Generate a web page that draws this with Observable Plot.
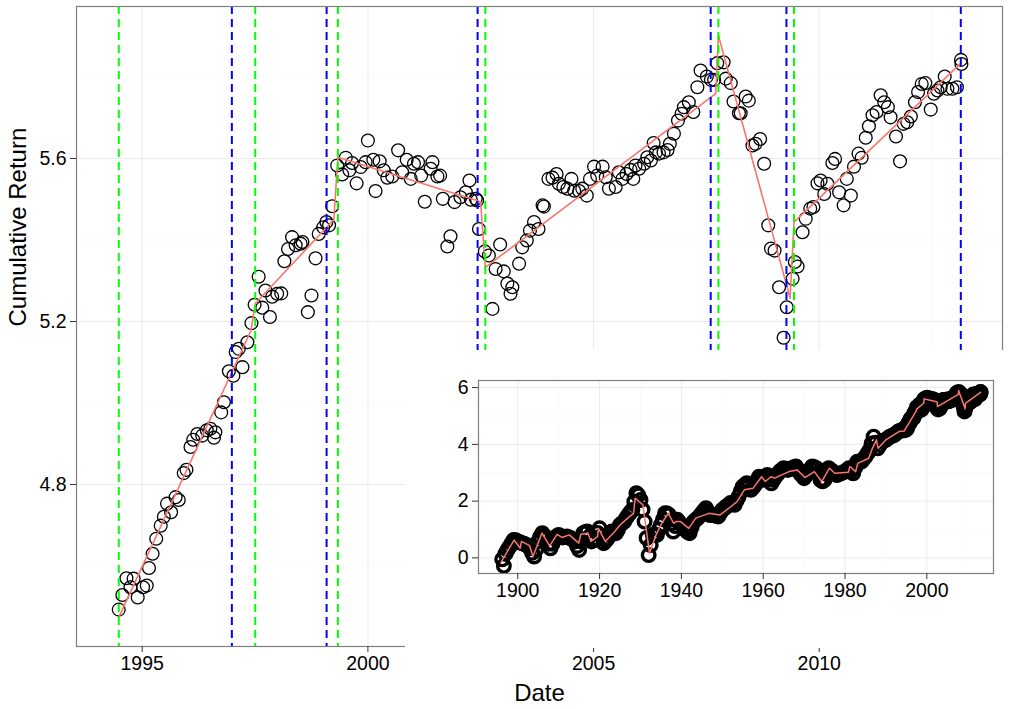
<!DOCTYPE html>
<html>
<head>
<meta charset="utf-8">
<script src="https://cdn.jsdelivr.net/npm/d3@7"></script>
<script src="https://cdn.jsdelivr.net/npm/@observablehq/plot@0.6"></script>
<style>
  html, body { margin: 0; padding: 0; background: #fff; }
  #chart { position: relative; width: 1009px; height: 709px; overflow: hidden; }
  #chart svg { display: block; }
  #inset { position: absolute; left: 405px; top: 350px; width: 604px; height: 298px; background: #fff; }
</style>
</head>
<body>
<div id="chart"><div id="inset"></div></div>
<script>
// Cumulative log return, 1994-2013 (decimal years)
const recentDates = [
  1994.48, 1994.56, 1994.65, 1994.74, 1994.81, 1994.90, 1995.02, 1995.10, 1995.15, 1995.23,
  1995.31, 1995.41, 1995.48, 1995.55, 1995.64, 1995.74, 1995.81, 1995.92, 1995.98, 1996.07,
  1996.13, 1996.22, 1996.33, 1996.43, 1996.51, 1996.59, 1996.62, 1996.75, 1996.81, 1996.92,
  1997.02, 1997.07, 1997.14, 1997.22, 1997.33, 1997.42, 1997.49, 1997.58, 1997.66, 1997.73,
  1997.83, 1997.88, 1997.99, 1998.08, 1998.15, 1998.23, 1998.32, 1998.40, 1998.51, 1998.55,
  1998.67, 1998.75, 1998.84, 1998.91, 1999.01, 1999.08, 1999.14, 1999.21, 1999.32, 1999.43,
  1999.51, 1999.59, 1999.65, 1999.75, 1999.84, 1999.95, 2000.00, 2000.12, 2000.17, 2000.26,
  2000.35, 2000.43, 2000.54, 2000.67, 2000.76, 2000.86, 2000.95, 2001.02, 2001.11, 2001.18,
  2001.26, 2001.39, 2001.43, 2001.54, 2001.60, 2001.66, 2001.76, 2001.83, 2001.92, 2002.05,
  2002.17, 2002.25, 2002.28, 2002.39, 2002.42, 2002.46, 2002.59, 2002.68, 2002.76, 2002.83,
  2002.93, 2003.01, 2003.09, 2003.16, 2003.20, 2003.35, 2003.42, 2003.52, 2003.59, 2003.68,
  2003.78, 2003.87, 2003.90, 2004.00, 2004.09, 2004.18, 2004.23, 2004.33, 2004.42, 2004.51,
  2004.57, 2004.68, 2004.75, 2004.85, 2004.92, 2005.01, 2005.08, 2005.20, 2005.27, 2005.34,
  2005.49, 2005.56, 2005.64, 2005.73, 2005.82, 2005.88, 2005.93, 2006.01, 2006.12, 2006.19,
  2006.27, 2006.33, 2006.38, 2006.45, 2006.55, 2006.64, 2006.69, 2006.78, 2006.87, 2006.95,
  2007.00, 2007.11, 2007.21, 2007.30, 2007.37, 2007.51, 2007.60, 2007.67, 2007.74, 2007.88,
  2007.93, 2008.04, 2008.10, 2008.22, 2008.26, 2008.37, 2008.44, 2008.52, 2008.59, 2008.69,
  2008.78, 2008.87, 2008.93, 2009.01, 2009.11, 2009.21, 2009.28, 2009.41, 2009.46, 2009.52,
  2009.63, 2009.70, 2009.80, 2009.87, 2009.96, 2010.03, 2010.11, 2010.18, 2010.29, 2010.35,
  2010.44, 2010.54, 2010.61, 2010.70, 2010.77, 2010.87, 2010.94, 2011.03, 2011.10, 2011.18,
  2011.27, 2011.36, 2011.44, 2011.52, 2011.58, 2011.70, 2011.79, 2011.87, 2011.95, 2012.03,
  2012.12, 2012.19, 2012.27, 2012.35, 2012.47, 2012.54, 2012.62, 2012.69, 2012.78, 2012.84,
  2012.95, 2013.05, 2013.14, 2013.15
];
const recentReturns = [
  4.493, 4.529, 4.570, 4.548, 4.569, 4.523, 4.548, 4.552, 4.595, 4.630,
  4.667, 4.699, 4.721, 4.753, 4.732, 4.769, 4.762, 4.828, 4.836, 4.892,
  4.910, 4.924, 4.920, 4.933, 4.937, 4.915, 4.928, 4.977, 5.002, 5.078,
  5.067, 5.125, 5.133, 5.088, 5.149, 5.196, 5.241, 5.310, 5.234, 5.276,
  5.211, 5.261, 5.268, 5.269, 5.348, 5.378, 5.407, 5.387, 5.391, 5.395,
  5.223, 5.264, 5.355, 5.415, 5.431, 5.444, 5.436, 5.483, 5.583, 5.561,
  5.602, 5.571, 5.589, 5.539, 5.579, 5.591, 5.644, 5.597, 5.520, 5.593,
  5.571, 5.553, 5.556, 5.620, 5.566, 5.597, 5.550, 5.587, 5.591, 5.558,
  5.494, 5.575, 5.591, 5.556, 5.558, 5.501, 5.384, 5.409, 5.493, 5.505,
  5.517, 5.546, 5.499, 5.501, 5.497, 5.427, 5.372, 5.362, 5.231, 5.329,
  5.389, 5.323, 5.293, 5.268, 5.284, 5.342, 5.382, 5.399, 5.423, 5.444,
  5.427, 5.485, 5.482, 5.550, 5.553, 5.562, 5.538, 5.530, 5.526, 5.550,
  5.521, 5.520, 5.526, 5.509, 5.550, 5.580, 5.558, 5.580, 5.554, 5.526,
  5.530, 5.566, 5.550, 5.562, 5.572, 5.550, 5.583, 5.575, 5.587, 5.603,
  5.595, 5.638, 5.615, 5.612, 5.615, 5.621, 5.636, 5.661, 5.693, 5.710,
  5.726, 5.738, 5.714, 5.775, 5.816, 5.801, 5.793, 5.793, 5.834, 5.836,
  5.796, 5.785, 5.740, 5.711, 5.711, 5.752, 5.742, 5.632, 5.636, 5.648,
  5.587, 5.436, 5.379, 5.374, 5.284, 5.160, 5.235, 5.305, 5.346, 5.335,
  5.419, 5.452, 5.477, 5.481, 5.539, 5.546, 5.513, 5.538, 5.589, 5.599,
  5.517, 5.485, 5.550, 5.509, 5.580, 5.612, 5.602, 5.651, 5.679, 5.706,
  5.714, 5.755, 5.738, 5.726, 5.701, 5.654, 5.593, 5.685, 5.689, 5.703,
  5.738, 5.763, 5.783, 5.785, 5.720, 5.759, 5.767, 5.775, 5.801, 5.771,
  5.771, 5.775, 5.842, 5.832
];

// Segmented linear fit over the same window
const fitDates   = [1994.481, 1997.411, 1997.504, 1999.246, 1999.335, 2002.365, 2002.498, 2002.602, 2007.706, 2007.766, 2009.280, 2009.353, 2009.441, 2013.140];
const fitReturns = [4.474,    5.178,    5.244,    5.450,    5.603,    5.499,    5.493,    5.333,    5.759,    5.902,    5.288,    5.257,    5.444,    5.834];

// Detected break dates
const greenBreaks = [1994.481, 1997.504, 1999.335, 2002.602, 2007.766, 2009.441];
const blueBreaks  = [1996.986, 1999.085, 2002.431, 2007.595, 2009.273, 2013.136];

// Long history, 1896-1994: start-of-year readings
const historyDates = [
  1896.2, 1896.6, 1897, 1898, 1899, 1900, 1901, 1902, 1903, 1904, 1905, 1906, 1907, 1908, 1909,
  1910, 1911, 1912, 1913, 1914, 1915, 1916, 1917, 1918, 1919, 1920, 1921, 1922, 1923, 1924,
  1925, 1926, 1927, 1928, 1929, 1930, 1931, 1932, 1933, 1934, 1935, 1936, 1937, 1938, 1939,
  1940, 1941, 1942, 1943, 1944, 1945, 1946, 1947, 1948, 1949, 1950, 1951, 1952, 1953, 1954,
  1955, 1956, 1957, 1958, 1959, 1960, 1961, 1962, 1963, 1964, 1965, 1966, 1967, 1968, 1969,
  1970, 1971, 1972, 1973, 1974, 1975, 1976, 1977, 1978, 1979, 1980, 1981, 1982, 1983, 1984,
  1985, 1986, 1987, 1988, 1989, 1990, 1991, 1992, 1993, 1994
];
const historyReturns = [
  -0.05, -0.28, 0.15, 0.40, 0.63, 0.58, 0.52, 0.46, 0.34, 0.05, 0.58, 0.87, 0.69, 0.34, 0.69,
  0.81, 0.72, 0.75, 0.69, 0.58, 0.28, 0.87, 0.93, 0.58, 0.69, 1.04, 0.52, 0.69, 0.93, 0.87,
  1.16, 1.28, 1.51, 1.69, 2.28, 2.04, 1.28, 0.10, 0.81, 0.81, 1.16, 1.57, 1.51, 0.93, 1.34,
  1.16, 0.99, 0.87, 1.28, 1.40, 1.57, 1.75, 1.51, 1.51, 1.46, 1.69, 1.81, 1.93, 1.87, 2.16,
  2.51, 2.63, 2.40, 2.57, 2.86, 2.75, 2.92, 2.63, 2.86, 3.04, 3.16, 3.10, 3.16, 3.22, 2.98,
  2.81, 3.04, 3.22, 3.16, 2.75, 2.75, 3.16, 3.04, 2.92, 2.98, 3.04, 3.16, 2.98, 3.39, 3.39,
  3.57, 3.80, 4.27, 3.86, 4.10, 4.16, 4.27, 4.33, 4.45, 4.51
];
// Mid-year readings, 1897.5-1993.5
const historyMidDates = [
  1897.5, 1898.5, 1899.5, 1900.5, 1901.5, 1902.5, 1903.5, 1904.5, 1905.5, 1906.5, 1907.5, 1908.5,
  1909.5, 1910.5, 1911.5, 1912.5, 1913.5, 1914.5, 1915.5, 1916.5, 1917.5, 1918.5, 1919.5, 1920.5,
  1921.5, 1922.5, 1923.5, 1924.5, 1925.5, 1926.5, 1927.5, 1928.5, 1929.5, 1930.5, 1931.5, 1932.5,
  1933.5, 1934.5, 1935.5, 1936.5, 1937.5, 1938.5, 1939.5, 1940.5, 1941.5, 1942.5, 1943.5, 1944.5,
  1945.5, 1946.5, 1947.5, 1948.5, 1949.5, 1950.5, 1951.5, 1952.5, 1953.5, 1954.5, 1955.5, 1956.5,
  1957.5, 1958.5, 1959.5, 1960.5, 1961.5, 1962.5, 1963.5, 1964.5, 1965.5, 1966.5, 1967.5, 1968.5,
  1969.5, 1970.5, 1971.5, 1972.5, 1973.5, 1974.5, 1975.5, 1976.5, 1977.5, 1978.5, 1979.5, 1980.5,
  1981.5, 1982.5, 1983.5, 1984.5, 1985.5, 1986.5, 1987.5, 1988.5, 1989.5, 1990.5, 1991.5, 1992.5,
  1993.5
];
const historyMidReturns = [
  0.28, 0.52, 0.62, 0.55, 0.50, 0.42, 0.18, 0.30, 0.75, 0.78, 0.50, 0.50,
  0.76, 0.76, 0.74, 0.72, 0.64, 0.42, 0.58, 0.90, 0.75, 0.62, 0.88, 0.78,
  0.60, 0.80, 0.90, 1.00, 1.22, 1.40, 1.60, 1.98, 2.20, 1.70, 0.70, 0.45,
  0.81, 1.00, 1.36, 1.56, 1.22, 1.12, 1.25, 1.08, 0.92, 1.08, 1.34, 1.48,
  1.66, 1.63, 1.51, 1.48, 1.58, 1.75, 1.87, 1.90, 2.02, 2.34, 2.57, 2.52,
  2.48, 2.72, 2.80, 2.84, 2.78, 2.75, 2.95, 3.10, 3.13, 3.13, 3.19, 3.10,
  2.90, 2.92, 3.13, 3.19, 2.96, 2.70, 2.96, 3.10, 2.98, 2.95, 3.01, 3.10,
  3.07, 3.18, 3.39, 3.48, 3.68, 4.03, 4.06, 3.98, 4.13, 4.22, 4.30, 4.39,
  4.48
];
const historyFitDates = [
  1896.0, 1899.1, 1900.6, 1900.9, 1902.9, 1903.7, 1905.9, 1907.8, 1909.6, 1910.8, 1912.6, 1914.9,
  1915.4, 1917.2, 1917.9, 1919.5, 1919.7, 1921.4, 1923.7, 1925.0, 1926.4, 1928.3, 1928.7, 1930.6,
  1932.2, 1933.8, 1935.2, 1936.8, 1938.1, 1938.7, 1939.8, 1941.8, 1943.5, 1946.7, 1949.4, 1951.6,
  1953.6, 1955.4, 1957.5, 1959.6, 1960.5, 1961.9, 1962.8, 1966.3, 1968.3, 1970.2, 1972.5, 1974.3,
  1976.2, 1977.5, 1980.8, 1981.2, 1982.6, 1983.1, 1985.8, 1986.7, 1987.7, 1988.1, 1990.0, 1993.2
];
const historyFitReturns = [
  -0.13, 0.63, 0.34, 0.58, 0.43, 0.05, 0.87, 0.42, 0.83, 0.72, 0.81, 0.52,
  0.83, 0.87, 0.58, 0.75, 1.04, 0.58, 0.93, 1.16, 1.34, 1.57, 2.10, 1.87,
  0.16, 0.81, 1.22, 1.57, 1.22, 1.28, 1.28, 1.04, 1.40, 1.57, 1.51, 1.75,
  1.98, 2.40, 2.45, 2.86, 2.69, 2.86, 2.81, 3.04, 3.10, 2.83, 3.04, 2.69,
  3.16, 2.98, 3.02, 3.22, 3.04, 3.33, 3.51, 3.86, 4.16, 3.86, 4.16, 4.45
];

// Axis ticks
const mainXTicks = [1995, 2000, 2005, 2010];
const mainXMinor = [1997.5, 2002.5, 2007.5, 2012.5];
const mainYTicks = [4.8, 5.2, 5.6];
const mainYMinor = [4.6, 5.0, 5.4, 5.8];
const insetXTicks = [1900, 1920, 1940, 1960, 1980, 2000];
const insetXMinor = [1890, 1910, 1930, 1950, 1970, 1990, 2010];
const insetYTicks = [0, 2, 4, 6];
const insetYMinor = [1, 3, 5];

const toRows = (xs, ys) => xs.map((x, i) => ({date: x, value: ys[i]}));
const recent = toRows(recentDates, recentReturns);
const fit = toRows(fitDates, fitReturns);
const fullSeries = toRows(
  historyDates.concat(historyMidDates, recentDates),
  historyReturns.concat(historyMidReturns, recentReturns)
);
const fullFit = toRows(historyFitDates.concat(fitDates), historyFitReturns.concat(fitReturns));

const FONT = "'Liberation Sans', Arial, Helvetica, sans-serif";
const RED = "#F8766D";
const yearFmt = d => String(d);

const main = Plot.plot({
  width: 1009,
  height: 709,
  marginLeft: 76,
  marginRight: 7,
  marginTop: 6,
  marginBottom: 63,
  style: {fontFamily: FONT, fontSize: "19.5px", color: "#000", background: "#fff", overflow: "visible"},
  x: {domain: [1993.544, 2014.06]},
  y: {domain: [4.4025, 5.973]},
  marks: [
    Plot.ruleX(mainXMinor, {stroke: "#fafafa", strokeWidth: 1}),
    Plot.ruleY(mainYMinor, {stroke: "#fafafa", strokeWidth: 1}),
    Plot.ruleX(mainXTicks, {stroke: "#ebebeb", strokeWidth: 1}),
    Plot.ruleY(mainYTicks, {stroke: "#ebebeb", strokeWidth: 1}),
    Plot.dot(recent, {x: "date", y: "value", r: 6.4, stroke: "#000", strokeWidth: 1.3, fill: "none"}),
    Plot.line(fit, {x: "date", y: "value", stroke: RED, strokeWidth: 1.6}),
    Plot.ruleX(greenBreaks, {stroke: "#00ff00", strokeWidth: 2, strokeDasharray: "8,5"}),
    Plot.ruleX(blueBreaks, {stroke: "#0000ff", strokeWidth: 2, strokeDasharray: "8,5"}),
    Plot.frame({stroke: "#7f7f7f", strokeWidth: 1.2}),
    Plot.axisX({ticks: mainXTicks, tickFormat: yearFmt, tickSize: 6, tickPadding: 4, label: null, stroke: "#333"}),
    Plot.axisY({ticks: mainYTicks, tickFormat: d3.format(".1f"), tickSize: 6, tickPadding: 4, label: null, stroke: "#333"}),
    Plot.text(["Date"], {frameAnchor: "bottom", dy: 47, fontSize: 24, lineAnchor: "middle"}),
    Plot.text(["Cumulative Return"], {frameAnchor: "left", dx: -58, rotate: -90, fontSize: 24, lineAnchor: "middle"})
  ]
});
document.getElementById("chart").prepend(main);

const inset = Plot.plot({
  width: 604,
  height: 298,
  marginLeft: 73,
  marginRight: 16,
  marginTop: 30,
  marginBottom: 75,
  style: {fontFamily: FONT, fontSize: "19.5px", color: "#000", background: "#fff"},
  x: {domain: [1890.4, 2016.3]},
  y: {domain: [-0.55, 6.25]},
  marks: [
    Plot.ruleX(insetXMinor, {stroke: "#fafafa", strokeWidth: 1}),
    Plot.ruleY(insetYMinor, {stroke: "#fafafa", strokeWidth: 1}),
    Plot.ruleX(insetXTicks, {stroke: "#ebebeb", strokeWidth: 1}),
    Plot.ruleY(insetYTicks, {stroke: "#ebebeb", strokeWidth: 1}),
    Plot.dot(fullSeries, {x: "date", y: "value", r: 6.3, stroke: "#000", strokeWidth: 3.4, fill: "none"}),
    Plot.line(fullFit, {x: "date", y: "value", stroke: RED, strokeWidth: 1.5}),
    Plot.frame({stroke: "#7f7f7f", strokeWidth: 1.2}),
    Plot.axisX({ticks: insetXTicks, tickFormat: yearFmt, tickSize: 6, tickPadding: 4, label: null, stroke: "#333"}),
    Plot.axisY({ticks: insetYTicks, tickFormat: d3.format("d"), tickSize: 6, tickPadding: 4, label: null, stroke: "#333"})
  ]
});
document.getElementById("inset").append(inset);
</script>
</body>
</html>
